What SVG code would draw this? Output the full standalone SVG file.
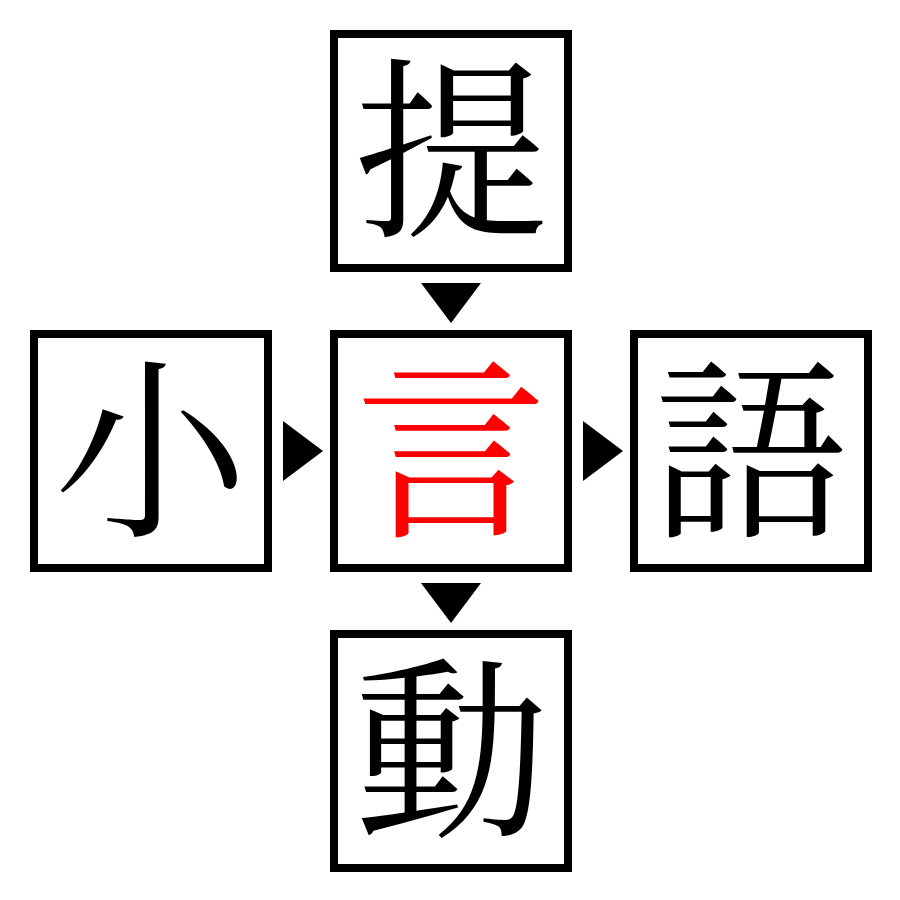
<svg xmlns="http://www.w3.org/2000/svg" width="900" height="900" viewBox="0 0 900 900">
<style>
.box{fill:#fff;stroke:#000;stroke-width:8}
.ch{font-family:"Noto Serif CJK JP","Noto Sans CJK JP",serif;font-size:194px;text-anchor:middle;dominant-baseline:central;fill:#000}
.red{fill:#ff0000}
.arr{fill:#000}
</style>
<rect width="900" height="900" fill="#fff"/>
<g id="node-top"><rect class="box" x="334" y="34" width="234" height="234"/><text class="ch" x="451" y="138">提</text></g>
<g id="node-left"><rect class="box" x="34" y="334" width="234" height="234"/><text class="ch" x="151" y="438">小</text></g>
<g id="node-center"><rect class="box" x="334" y="334" width="234" height="234"/><text class="ch red" x="451" y="438">言</text></g>
<g id="node-right"><rect class="box" x="634" y="334" width="234" height="234"/><text class="ch" x="751" y="438">語</text></g>
<g id="node-bottom"><rect class="box" x="334" y="634" width="234" height="234"/><text class="ch" x="451" y="738">動</text></g>
<g id="connectors">
<polygon class="arr" points="421,283 481,283 451,323"/>
<polygon class="arr" points="421,583 481,583 451,623"/>
<polygon class="arr" points="283,421 283,481 323,451"/>
<polygon class="arr" points="583,421 583,481 623,451"/>
</g>
</svg>
